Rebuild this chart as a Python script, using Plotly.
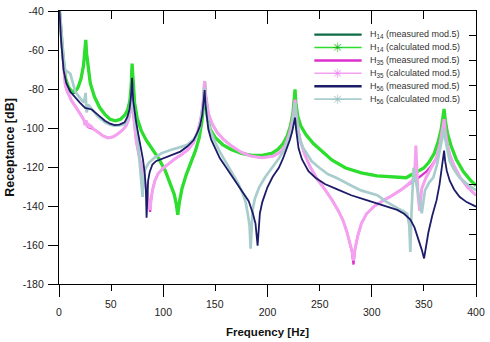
import plotly.graph_objects as go

# ---------------- data ----------------
h14_calc_f = [0.5, 2, 4, 6, 9, 12, 15, 18, 21, 23.5, 25, 25.7, 26.5, 28, 30, 34, 39, 44, 49, 54, 59, 63, 66, 68,
              69.3, 70.1, 71, 72.5, 75, 79, 84, 90, 96, 102, 107, 110.5, 112.5, 113.9, 115.5, 118, 122, 127, 131,
              134.5, 137, 138.7, 139.7, 140.7, 142.5, 145, 150, 157, 165, 175, 185, 195, 204, 210, 215, 219, 222,
              224.5, 225.7, 226.4, 227.2, 229, 232, 237, 244, 252, 262, 275, 290, 305, 320, 333, 338, 341, 345,
              350, 355, 360, 364, 366.5, 368.3, 369.4, 370.5, 372.5, 376, 381, 388, 395, 400]
h14_calc_db = [-40, -52, -64, -74, -79, -81, -81.5, -79.5, -75, -68, -61, -54.8, -62, -70, -77, -84, -89.5, -93,
               -95.5, -96.3, -95.5, -93.5, -90.5, -86, -78, -67, -78, -87, -95, -101.5, -106.5, -111, -116, -122,
               -128.5, -134, -139, -144.5, -138, -131, -124, -117, -111.5, -105, -97, -88, -76.5, -87, -95,
               -100.5, -105, -108.5, -111, -113, -114, -114, -113, -111, -108, -104, -99, -92, -86, -80.2, -87,
               -94, -99, -103.5, -108, -112, -116.5, -120.5, -123, -124.5, -125.2, -125.5, -124, -123, -122,
               -120.5, -117.5, -113, -106.5, -101, -95, -90.2, -96, -102.5, -109, -116, -122.5, -127, -129.5]

h14_meas_f = [0.5, 2, 4, 6, 9, 12, 15, 18, 21, 23.5, 25, 25.7, 26.5, 28, 30, 34, 39, 44, 49, 54, 59, 63, 66, 68,
              69.3, 70.1, 71, 72.5, 75, 79, 84, 90, 96, 102, 107, 110.5, 112.5, 113.9, 115.5, 118, 122, 127, 131,
              134.5, 137, 138.7, 139.7, 140.7, 142.5, 145, 150, 157, 165, 175, 185, 195, 204, 210, 215, 219, 222,
              224.5, 225.7, 226.4, 227.2, 229, 232, 237, 244, 252, 262, 275, 290, 305, 320, 333, 338, 341, 345,
              350, 355, 360, 364, 366.5, 368.3, 369.4, 370.5, 372.5, 376, 381, 388, 395, 400]
h14_meas_db = [-40, -53, -66, -75, -80, -82, -82, -79.5, -75, -68, -61, -56, -62, -70, -77, -84, -89.5, -93,
               -95.5, -96.3, -95.5, -93.5, -90.5, -86, -78, -68, -78, -87, -95, -101.5, -106.5, -111, -116, -122,
               -128.5, -134, -139, -143.5, -138, -131, -124, -117, -111.5, -105, -97, -88, -77.5, -87, -95,
               -100.5, -105, -108.5, -111, -113, -114, -114, -113, -111, -108, -104, -99, -92, -86, -81, -87,
               -94, -99, -103.5, -108, -112, -116.5, -120.5, -123, -124.5, -125.2, -125.5, -124, -123, -122,
               -120.5, -117.5, -113, -106.5, -101, -95, -91, -96, -102.5, -109, -116, -122.5, -127, -129.5]

h35_meas_f = [0.5, 2, 3, 4.5, 6, 7.5, 9, 12, 15.6, 19, 22, 25, 28, 30, 33, 37.6, 42, 47, 52, 56.5, 61, 64.4, 66.5,
              68.3, 69.5, 70.3, 71.2, 72.5, 74, 76.5, 79, 82, 84.5, 86.3, 87.4, 88.3, 89.6, 92, 95, 100, 106, 112,
              118, 124, 129, 133, 135.8, 137.8, 139, 139.7, 140.5, 141.8, 143.5, 147, 152, 158, 165, 175, 185,
              195, 205, 212, 217, 221, 223.5, 225.3, 226.4, 227.5, 229.5, 232, 236, 241, 248, 255, 262, 268,
              272.5, 276, 279, 281, 282.5, 284, 286.5, 290, 295, 302, 311, 320, 330, 337, 342, 346, 352, 357,
              362, 365.5, 367.8, 369.4, 370.7, 372.5, 375, 379, 385, 392, 400]
h35_meas_db = [-40, -50, -59, -70, -78, -81, -83, -86, -88.8, -91.5, -94, -97, -99.5, -100, -100.5, -102.1, -104,
               -105.1, -104.5, -103, -101, -98.8, -96, -92, -88, -85.5, -92, -100, -106.5, -113.5, -120.5,
               -127.5, -133, -138, -143, -137, -132, -127, -123.5, -120.5, -118, -115.5, -113.5, -111, -107.5,
               -102, -96, -89, -82, -76, -82, -88, -93, -98, -102.5, -106, -109, -112.5, -114.5, -115.2, -114.5,
               -112.5, -109, -103, -97.5, -91, -85.5, -93, -101, -107.5, -114, -120, -126.5, -131.5, -137,
               -142.5, -147.5, -153, -158.5, -163.5, -170, -162, -155.5, -149, -144, -140.3, -137.2, -134.5, -131,
               -128.5, -126.5, -125, -122.5, -119.5, -115.5, -108, -101, -95.5, -102, -108.5, -114, -119.5,
               -125.5, -130.5, -134.5]

h35_calc_f = [0.5, 2, 3, 4.5, 6, 7.5, 9, 12, 15.6, 19, 22, 24, 25, 26, 27, 28, 29, 30, 33, 37.6, 42, 47, 52, 56.5,
              61, 64.4, 66.5, 68.3, 69.5, 70.3, 71.2, 72.5, 74, 76.5, 79, 82, 84.5, 86.3, 87.4, 88.3, 89.6, 92, 95,
              100, 106, 112, 118, 124, 129, 133, 135.8, 137.8, 139, 139.7, 140.5, 141.8, 143.5, 147, 152, 158,
              165, 175, 185, 195, 205, 212, 217, 221, 223.5, 225.3, 226.4, 227.5, 229.5, 232, 236, 241, 248, 255,
              262, 268, 272.5, 276, 279, 281, 282.5, 284, 286.5, 290, 295, 302, 311, 320, 330, 337, 340, 341.5,
              342.3, 343.3, 344.5, 346, 348, 352, 357, 362, 365.5, 367.8, 369.4, 370.7, 372.5, 375, 379, 385, 392,
              400]
h35_calc_db = [-40, -50, -59, -70, -78, -80.5, -82.5, -86, -88.8, -91.5, -94, -96, -98.5, -96, -99.5, -97.5, -100,
               -98.5, -100.5, -102.1, -104, -105.1, -104.5, -103, -101, -98.8, -96, -92, -88, -85, -92, -100,
               -106.5, -113.5, -120.5, -127.5, -133, -137.5, -142, -137, -132, -127, -123.5, -120.5, -118,
               -115.5, -113.5, -111, -107.5, -102, -96, -89, -82, -75.9, -82, -88, -93, -98, -102.5, -106, -109,
               -112.5, -114.5, -115.2, -114.5, -112.5, -109, -103, -97.5, -91, -85.5, -93, -101, -107.5, -114,
               -120, -126.5, -131.5, -137, -142.5, -147.5, -153, -158.5, -163, -168, -162, -155.5, -149, -144,
               -140.3, -137.2, -134.5, -131, -128, -126.5, -120, -109, -121, -135, -142.5, -131, -125.5, -120.5,
               -115.5, -108, -101, -95.5, -102, -108.5, -114, -119.5, -125.5, -130.5, -134.5]

h56_meas_f = [0.5, 2, 4.5, 7, 10.9, 15, 20, 25, 31.4, 38, 44, 49, 53.4, 58, 62.9, 65.5, 67.6, 69, 70.1, 71.2, 72.5,
              74, 76, 78.6, 80.5, 82.2, 83.3, 84, 84.7, 85.5, 87, 89.6, 93, 100.7, 108, 116.4, 123, 129, 133, 135.3,
              137.5, 138.9, 139.7, 140.5, 141.8, 143.2, 146, 150, 154.2, 160, 166.8, 172, 177.9, 182, 185.9,
              188.5, 190.5, 191.5, 192.7, 195, 199.9, 205, 210.9, 215, 218.8, 221.5, 223.6, 225.3, 226.4, 227.5,
              229.8, 233, 239.3, 246, 255, 267, 280.3, 292, 305.4, 315, 324.4, 331, 337, 341, 344.8, 348, 350.2,
              352, 354.3, 358, 362.2, 365, 366.9, 368.5, 369.4, 370.4, 372, 374.8, 379, 384.2, 391, 400]
h56_meas_db = [-40, -55, -70.6, -77, -81.4, -84, -87, -89.7, -90.5, -93.5, -96.3, -97.8, -98.5, -98.3, -97.1,
               -94.5, -90.5, -84, -74.2, -86, -92, -97, -103, -110.4, -116, -123, -131, -146, -133, -127, -122.5,
               -118.7, -117, -115.4, -114, -112.1, -109.5, -106.3, -102, -98.8, -93, -87, -80.5, -88, -95,
               -100.5, -106, -111, -115.4, -120, -125.4, -129.5, -133.7, -137.5, -143.7, -149, -160.3, -150,
               -143.7, -138, -130.4, -125, -120.4, -115.5, -110.4, -106, -102.1, -98, -94.7, -101, -110.4, -116,
               -122.1, -125.5, -128.7, -131.5, -134.5, -136.5, -138.7, -140.3, -142, -144, -147, -151, -156.9,
               -162.5, -166.9, -160, -153.6, -145, -137, -129, -120.4, -115, -111.6, -117, -122, -127, -131.5,
               -135.3, -138, -140.3]

h56_calc_f = [0.5, 2, 4, 6.1, 8, 10.9, 13, 15.6, 20, 24, 25.5, 26.5, 28, 31.4, 37, 44, 49, 53.4, 58, 62.9, 65.5,
              67.6, 69, 70.1, 71.2, 72.5, 74, 75.5, 77, 78.5, 79.5, 80.2, 80.9, 81.8, 83.3, 86, 91.2, 98, 107,
              115, 122.7, 128, 132.2, 135, 136.9, 138.7, 139.7, 140.6, 141.8, 143.2, 146, 150, 154.2, 160, 166.8,
              172, 176.3, 179, 181, 182.8, 183.8, 184.6, 185.7, 188, 192, 198, 204.6, 211, 217.2, 221, 223.6,
              225.3, 226.4, 227.5, 229.8, 234, 242.4, 250, 258.2, 266, 274, 282, 289.7, 297, 305.4, 313, 321.2,
              326, 330.7, 334, 336, 337, 338, 339, 340.1, 341.5, 343.3, 345.5, 348, 349.5, 351.1, 355, 359,
              362.5, 365.3, 367.5, 369.4, 370.6, 372.5, 374.8, 379, 384.2, 391, 400]
h56_calc_db = [-40, -52, -63, -70.6, -71, -72.2, -77, -81.4, -84.5, -87, -82, -92, -88, -90.5, -94, -97.1, -98.3,
               -98.8, -98.7, -98, -95.5, -92.2, -86, -78.9, -88, -94, -99, -105, -115.4, -124, -130, -135.3, -128,
               -122.5, -120.4, -118, -115.4, -113, -111.3, -110, -108.8, -106.5, -103.8, -99.5, -93.8, -87,
               -79.7, -88, -93, -97.1, -102.5, -107.5, -112.1, -117.5, -123.7, -128.5, -133.7, -138, -143.7,
               -150, -161.9, -150, -142, -136, -130.4, -125, -120.4, -115.5, -110.4, -105, -100.5, -94, -87.2,
               -95, -103.8, -110, -117.1, -120.5, -123.7, -125.5, -127.9, -130, -132, -133, -134.5, -137.5,
               -140.3, -141.5, -142.8, -144, -150, -163.6, -145, -131, -120.4, -125, -130.4, -138, -143.7, -138,
               -132, -128, -125.4, -119, -112.1, -106, -100.5, -106, -112, -117.1, -121.5, -125.4, -128.5, -132]

legend_labels = [
    "H<sub>14</sub> (measured mod.5)",
    "H<sub>14</sub> (calculated mod.5)",
    "H<sub>35</sub> (measured mod.5)",
    "H<sub>35</sub> (calculated mod.5)",
    "H<sub>56</sub> (measured mod.5)",
    "H<sub>56</sub> (calculated mod.5)",
]
x_major_ticks = [0, 100, 200, 300, 400]
x_minor_ticks = [50, 150, 250, 350]
y_ticks = [-40, -60, -80, -100, -120, -140, -160, -180]

# ---------------- styles ----------------
C_H14M = "#0d6b45"
C_H14C = "#2ede2e"
C_H35M = "#dc2fcb"
C_H35C = "#f4a2f0"
C_H56M = "#1c1c68"
C_H56C = "#a9cdcd"
FONT = "Liberation Sans, Arial, sans-serif"

W, H = 490, 342
ML, MR, MT, MB = 59, 8, 5, 56
PW, PH = W - ML - MR, H - MT - MB

series = [
    (h14_meas_f, h14_meas_db, C_H14M, 2.0),
    (h14_calc_f, h14_calc_db, C_H14C, 3.3),
    (h35_meas_f, h35_meas_db, C_H35M, 2.2),
    (h35_calc_f, h35_calc_db, C_H35C, 3.0),
    (h56_meas_f, h56_meas_db, C_H56M, 1.8),
    (h56_calc_f, h56_calc_db, C_H56C, 2.7),
]
order = [0, 1, 2, 3, 5, 4]

fig = go.Figure()
for i in order:
    f, db, col, lw = series[i]
    fig.add_trace(go.Scatter(
        x=f, y=db, mode="lines", name=legend_labels[i],
        line=dict(color=col, width=lw), showlegend=False, hoverinfo="skip",
    ))

axis_common = dict(showgrid=False, zeroline=False, linecolor="black", linewidth=1.2,
                   tickcolor="black", tickwidth=1.2)

fig.update_layout(
    width=W, height=H,
    margin=dict(l=ML, r=MR, t=MT, b=MB, pad=0),
    paper_bgcolor="white", plot_bgcolor="white",
    font=dict(family=FONT, size=10.5, color="#222"),
    showlegend=False,
    xaxis=dict(range=[0, 400], showline=True, ticks="outside", ticklen=12,
               tickvals=x_major_ticks, ticktext=[str(v) for v in x_major_ticks],
               minor=dict(tickvals=x_minor_ticks, ticks="outside", ticklen=6, tickcolor="black", tickwidth=1.2),
               ticklabeloverflow="allow", ticklabelstandoff=6,
               title=dict(text="<b>Frequency [Hz]</b>", font=dict(size=11.5, color="#111"), standoff=11),
               **axis_common),
    xaxis2=dict(range=[0, 400], overlaying="x", anchor="y", side="top", showline=True,
                ticks="inside", ticklen=13, tickvals=[100, 200, 300], showticklabels=False,
                minor=dict(tickvals=x_minor_ticks, ticks="inside", ticklen=8, tickcolor="black", tickwidth=1.2),
                **axis_common),
    yaxis=dict(range=[-180, -40], showline=True, ticks="outside", ticklen=10,
               tickvals=y_ticks, ticktext=[str(v) for v in y_ticks], ticklabelstandoff=2,
               ticklabeloverflow="allow",
               title=dict(text="<b>Receptance [dB]</b>", font=dict(size=12.5, color="#111"), standoff=5),
               **axis_common),
    yaxis2=dict(range=[0, 11], overlaying="y", anchor="x", side="right", showline=True,
                ticks="inside", ticklen=7, tickvals=list(range(1, 11)), showticklabels=False,
                **axis_common),
)
fig.add_trace(go.Scatter(x=[None], y=[None], xaxis="x2", yaxis="y2", showlegend=False, hoverinfo="skip"))

# staggered labels of the 50-step ticks (placed on the x data scale)
for v in x_minor_ticks:
    fig.add_annotation(xref="x", yref="paper", x=v, y=0, yshift=-12, text=str(v), showarrow=False,
                       xanchor="center", yanchor="top", font=dict(family=FONT, size=10.5, color="#222"))

# ---------------- legend drawn by hand (compact row spacing) ----------------
def px_to_paper(px, py):
    return (px - ML) / PW, (H - MB - py) / PH

leg_cols = [C_H14M, C_H14C, C_H35M, C_H35C, C_H56M, C_H56C]
leg_widths = [2.4, 1.6, 2.4, 1.5, 2.4, 1.8]
leg_marker = [False, True, False, True, False, True]
leg_marker_col = [None, "#18b418", None, "#f08cf0", None, "#98c4c4"]
row0, step = 29.3, 13.3
for k in range(6):
    py = row0 + k * step
    x0, y0 = px_to_paper(318, py)
    x1, _ = px_to_paper(366, py)
    fig.add_shape(type="line", xref="paper", yref="paper", x0=x0, x1=x1, y0=y0, y1=y0,
                  line=dict(color=leg_cols[k], width=leg_widths[k]))
    if leg_marker[k]:
        xm, _ = px_to_paper(341.5, py)
        fig.add_annotation(xref="paper", yref="paper", x=xm, y=y0, text="<b>✳</b>", showarrow=False,
                           font=dict(family="DejaVu Sans", size=13, color=leg_marker_col[k]),
                           xanchor="center", yanchor="middle")
    xt, _ = px_to_paper(372, py)
    fig.add_annotation(xref="paper", yref="paper", x=xt, y=y0, text=legend_labels[k], showarrow=False,
                       font=dict(family=FONT, size=9.0, color="#333"), xanchor="left", yanchor="middle")

fig.write_html("out.html")
